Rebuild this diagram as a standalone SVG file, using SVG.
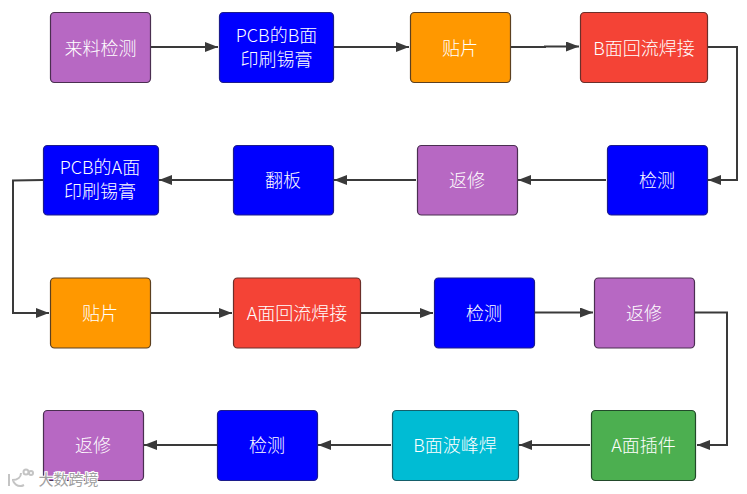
<svg xmlns="http://www.w3.org/2000/svg" width="747" height="494" viewBox="0 0 747 494">
<style>
.n{stroke-width:1.2}
.p{fill:#b768c3;stroke:#4a2f50}
.b{fill:#0000ff;stroke:#1c1c8c}
.o{fill:#ff9800;stroke:#5c4020}
.r{fill:#f44336;stroke:#6b2f2a}
.g{fill:#4caf50;stroke:#22492a}
.c{fill:#00bcd4;stroke:#155f6a}
text{font-family:"Noto Sans CJK SC","Noto Sans",sans-serif;font-size:18px;font-weight:300;fill:#fff;text-anchor:middle}
.e{fill:none;stroke:#3a3a3a;stroke-width:2;marker-end:url(#a)}
text.w{font-size:15px;font-weight:400;fill:#a0a0a0;stroke:#fff;stroke-width:2;paint-order:stroke}
.l{fill:none;stroke:#c4c4c4;stroke-width:2}
</style>
<defs><marker id="a" markerUnits="userSpaceOnUse" markerWidth="14" markerHeight="10" refX="13" refY="5" orient="auto"><path d="M0 0L13 5L0 10Z" fill="#3a3a3a"/></marker></defs>
<rect width="747" height="494" fill="#fff"/>
<g id="connectors">
<path class="e" d="M151 47H218"/>
<path class="e" d="M334 47H409"/>
<path class="e" d="M511 47H545V46.500H579"/>
<path class="e" d="M708 47H737V180H708"/>
<path class="e" d="M606 180H518"/>
<path class="e" d="M416 180H334"/>
<path class="e" d="M233 180H159"/>
<path class="e" d="M43 180L13 180.500V313H49"/>
<path class="e" d="M151 313H232"/>
<path class="e" d="M361 313H433"/>
<path class="e" d="M535 312.500H593"/>
<path class="e" d="M695 312.500H727V445H697"/>
<path class="e" d="M590 445H519"/>
<path class="e" d="M391 445H318"/>
<path class="e" d="M217 445H144"/>
</g>
<g id="n1"><rect class="n p" x="50.500" y="12.500" width="100" height="70" rx="4"/><text x="100.500" y="55">来料检测</text></g>
<g id="n2"><rect class="n b" x="219.500" y="12.500" width="114" height="70" rx="4"/><text x="276.500" y="42">PCB的B面</text><text x="276.500" y="66">印刷锡膏</text></g>
<g id="n3"><rect class="n o" x="410.500" y="12.500" width="100" height="70" rx="4"/><text x="460" y="55">贴片</text></g>
<g id="n4"><rect class="n r" x="580.500" y="12.500" width="127" height="70" rx="4"/><text x="644" y="55">B面回流焊接</text></g>
<g id="n5"><rect class="n b" x="607.500" y="145.500" width="100" height="69.500" rx="4"/><text x="657" y="187">检测</text></g>
<g id="n6"><rect class="n p" x="417.500" y="145.500" width="100" height="69.500" rx="4"/><text x="467" y="187">返修</text></g>
<g id="n7"><rect class="n b" x="233.500" y="145.500" width="100" height="69.500" rx="4"/><text x="283" y="187">翻板</text></g>
<g id="n8"><rect class="n b" x="43.500" y="145.500" width="115" height="69.500" rx="4"/><text x="100" y="174">PCB的A面</text><text x="100" y="198">印刷锡膏</text></g>
<g id="n9"><rect class="n o" x="50.500" y="278" width="100" height="70" rx="4"/><text x="100" y="320">贴片</text></g>
<g id="n10"><rect class="n r" x="233.500" y="278" width="127" height="70" rx="4"/><text x="297" y="320">A面回流焊接</text></g>
<g id="n11"><rect class="n b" x="434.500" y="278" width="100" height="70" rx="4"/><text x="484" y="320">检测</text></g>
<g id="n12"><rect class="n p" x="594.500" y="278" width="100" height="70" rx="4"/><text x="644" y="320">返修</text></g>
<g id="n13"><rect class="n g" x="591.500" y="410.500" width="104" height="70" rx="4"/><text x="643.500" y="452">A面插件</text></g>
<g id="n14"><rect class="n c" x="392.500" y="410.500" width="126" height="70" rx="4"/><text x="455" y="452">B面波峰焊</text></g>
<g id="n15"><rect class="n b" x="217.500" y="410.500" width="100" height="70" rx="4"/><text x="267" y="452">检测</text></g>
<g id="n16"><rect class="n p" x="43.500" y="410.500" width="100" height="70" rx="4"/><text x="93" y="452">返修</text></g>
<path class="l" d="M9 474V486M12 480C18 480 21 477 21 473M13 481C16 486 20 487 24 485"/><circle class="l" cx="26" cy="472" r="2.500"/><circle class="l" cx="31" cy="473" r="2"/>
<text class="w" x="68.500" y="485">大数跨境</text>
</svg>
